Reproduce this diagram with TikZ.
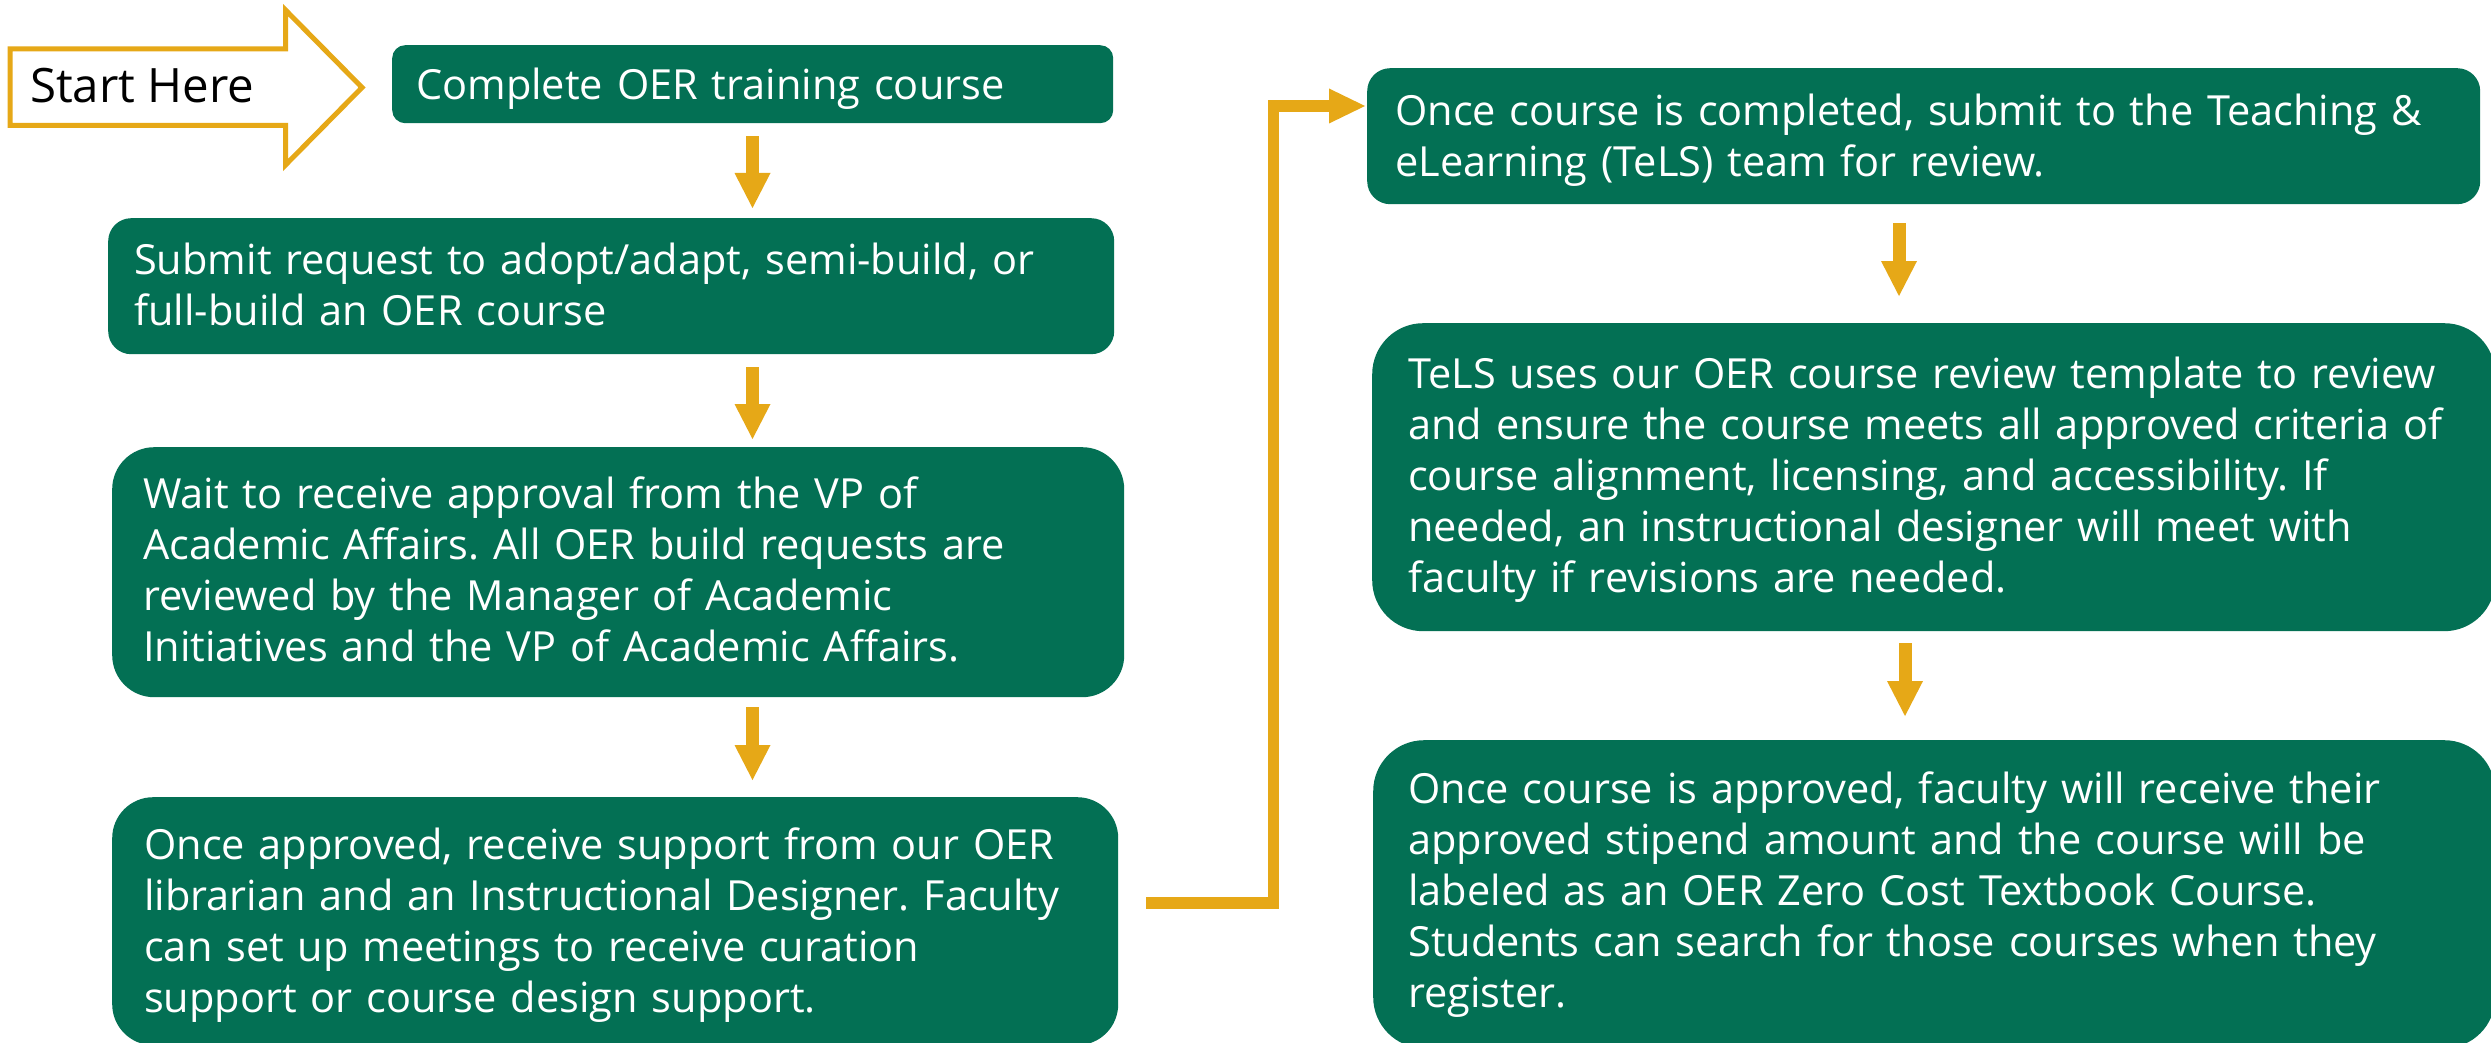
\documentclass[tikz,border=0pt]{standalone}
\usepackage{fontspec}
\setmainfont{Open Sans}
\usetikzlibrary{arrows.meta}
\frenchspacing
\definecolor{oergreen}{RGB}{3,112,84}
\definecolor{oergold}{RGB}{230,168,23}
\newcommand\oerboxfont{\fontsize{41.5}{51}\selectfont}
\newcommand\oerstartfont{\fontsize{47.4}{56}\selectfont}
\tikzset{
  stepbox/.style={fill=oergreen, text=white, inner ysep=0pt, align=left, anchor=north west, font=\oerboxfont},
  downarr/.style={draw=oergold, line width=13pt, -{Triangle[width=36pt,length=35pt,line width=0pt]}},
  elbowarr/.style={draw=oergold, line width=11.5pt, line join=miter, -{Triangle[width=35pt,length=36pt,line width=0pt]}},
  startout/.style={draw=oergold, fill=white, line width=5pt, line join=miter},
}
\begin{document}
\begin{tikzpicture}[x=1pt,y=-1pt]
\useasboundingbox (0,0) rectangle (2491,1043);
\clip (0,0) rectangle (2491,1043);
\fill[white] (0,0) rectangle (2491,1043);

% start arrow
\draw[startout] (10,49) -- (285.5,49) -- (285.5,10) -- (362,87.5) -- (285.5,165) -- (285.5,125.5) -- (10,125.5) -- cycle;
\node[anchor=base west, inner sep=0pt, font=\oerstartfont, text=black] (start) at (30,103) {Start Here};

% boxes
\node[stepbox, rounded corners=13pt, text width=673pt, inner xsep=24pt, text height=54pt, text depth=24pt] (b1) at (392,45)
  {Complete OER training course};
\node[stepbox, rounded corners=23pt, text width=954pt, inner xsep=26pt, text height=56pt, text depth=80pt] (b2) at (108,218)
  {Submit request to adopt/adapt, semi-build, or\\full-build an OER course};
\node[stepbox, rounded corners=42pt, text width=950pt, inner xsep=31pt, text height=61pt, text depth=189pt] (b3) at (112,447)
  {Wait to receive approval from the VP of\\Academic Affairs. All OER build requests are\\reviewed by the Manager of Academic\\Initiatives and the VP of Academic Affairs.};
\node[stepbox, rounded corners=41pt, text width=942pt, inner xsep=32pt, text height=62pt, text depth=186pt] (b4) at (112,797)
  {Once approved, receive support from our OER\\librarian and an Instructional Designer. Faculty\\can set up meetings to receive curation\\support or course design support.};
\node[stepbox, rounded corners=23pt, text width=1057pt, inner xsep=28pt, text height=57pt, text depth=79pt] (b5) at (1367,68)
  {Once course is completed, submit to the Teaching \&\\eLearning (TeLS) team for review.};
\node[stepbox, rounded corners=51pt, text width=1051pt, inner xsep=36pt, text height=65pt, text depth=243pt] (b6) at (1372,323)
  {TeLS uses our OER course review template to review\\and ensure the course meets all approved criteria of\\course alignment, licensing, and accessibility. If\\needed, an instructional designer will meet with\\faculty if revisions are needed.};
\node[stepbox, rounded corners=51pt, text width=1052pt, inner xsep=35pt, text height=63pt, text depth=245pt] (b7) at (1373,740)
  {Once course is approved, faculty will receive their\\approved stipend amount and the course will be\\labeled as an OER Zero Cost Textbook Course.\\Students can search for those courses when they\\register.};

% columns for the down arrows
\coordinate (colL) at (752.5,0);
\coordinate (colR1) at (1899,0);
\coordinate (colR2) at (1905,0);
\coordinate (bend) at (1273.5,106);

\draw[downarr, shorten <=13pt, shorten >=10pt] (b1.south -| colL) -- (b2.north -| colL);
\draw[downarr, shorten <=13pt, shorten >=8pt] (b2.south -| colL) -- (b3.north -| colL);
\draw[downarr, shorten <=10pt, shorten >=17pt] (b3.south -| colL) -- (b4.north -| colL);
\draw[downarr, shorten <=19pt, shorten >=27pt] (b5.south -| colR1) -- (b6.north -| colR1);
\draw[downarr, shorten <=12pt, shorten >=24pt] (b6.south -| colR2) -- (b7.north -| colR2);

\draw[elbowarr, shorten >=2pt] ([xshift=28pt,yshift=18pt]b4.east) -| (bend) -- (bend -| b5.west);
\end{tikzpicture}
\end{document}
